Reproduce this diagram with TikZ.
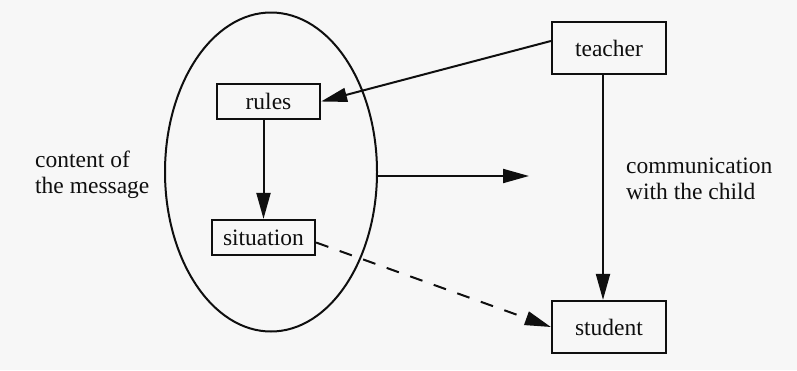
\documentclass[tikz,border=0pt]{standalone}
\usepackage{fontspec}
\setmainfont{Liberation Serif}
\usetikzlibrary{arrows.meta,shapes.geometric}
\definecolor{paper}{RGB}{247,247,247}
\definecolor{ink}{RGB}{15,15,15}
\tikzset{
  txt/.style={font=\fontsize{23.5}{26}\selectfont, text=ink, inner sep=0pt},
  box/.style={txt, draw=ink, line width=2.2pt, fill=paper, minimum width=#1, minimum height=35pt},
  bigbox/.style={box=114pt, minimum height=52pt},
  link/.style={draw=ink, line width=2pt, -{Triangle[length=26pt,width=14pt]}},
  label/.style={txt, align=left, anchor=west}
}
\begin{document}
\begin{tikzpicture}[x=1pt,y=-1pt]
  % canvas
  \fill[paper] (0,0) rectangle (797,370);

  % the message as a whole
  \node[draw=ink, line width=2pt, ellipse, minimum width=212pt, minimum height=319pt, inner sep=0pt] (msg) at (271,172) {};

  % boxes
  \node[bigbox] (teacher) at (609,48) {teacher};
  \node[bigbox] (student) at (609,327) {student};
  \node[box=103pt] (rules) at (268.5,101.5) {rules};
  \node[box=103pt] (situation) at (263.5,237.5) {situation};

  % side labels
  \node[label] (content) at (35,175) {content of\\the message};
  \node[label] (comm) at (626,179) {communication\\with the child};

  % connectors
  \draw[link] ([yshift=7pt]teacher.west) -- (rules.east);
  \draw[link] (rules.south -| situation) -- (situation.north);
  \draw[link] ([xshift=-6pt]teacher.south) -- ([xshift=-6pt]student.north);
  \coordinate (out) at (529,176);
  \draw[link] ([yshift=-4pt]msg.east) -- (out);
  \draw[link, dash pattern=on 13pt off 12pt] ([yshift=-5pt]situation.east) -- (student.west);
\end{tikzpicture}
\end{document}
